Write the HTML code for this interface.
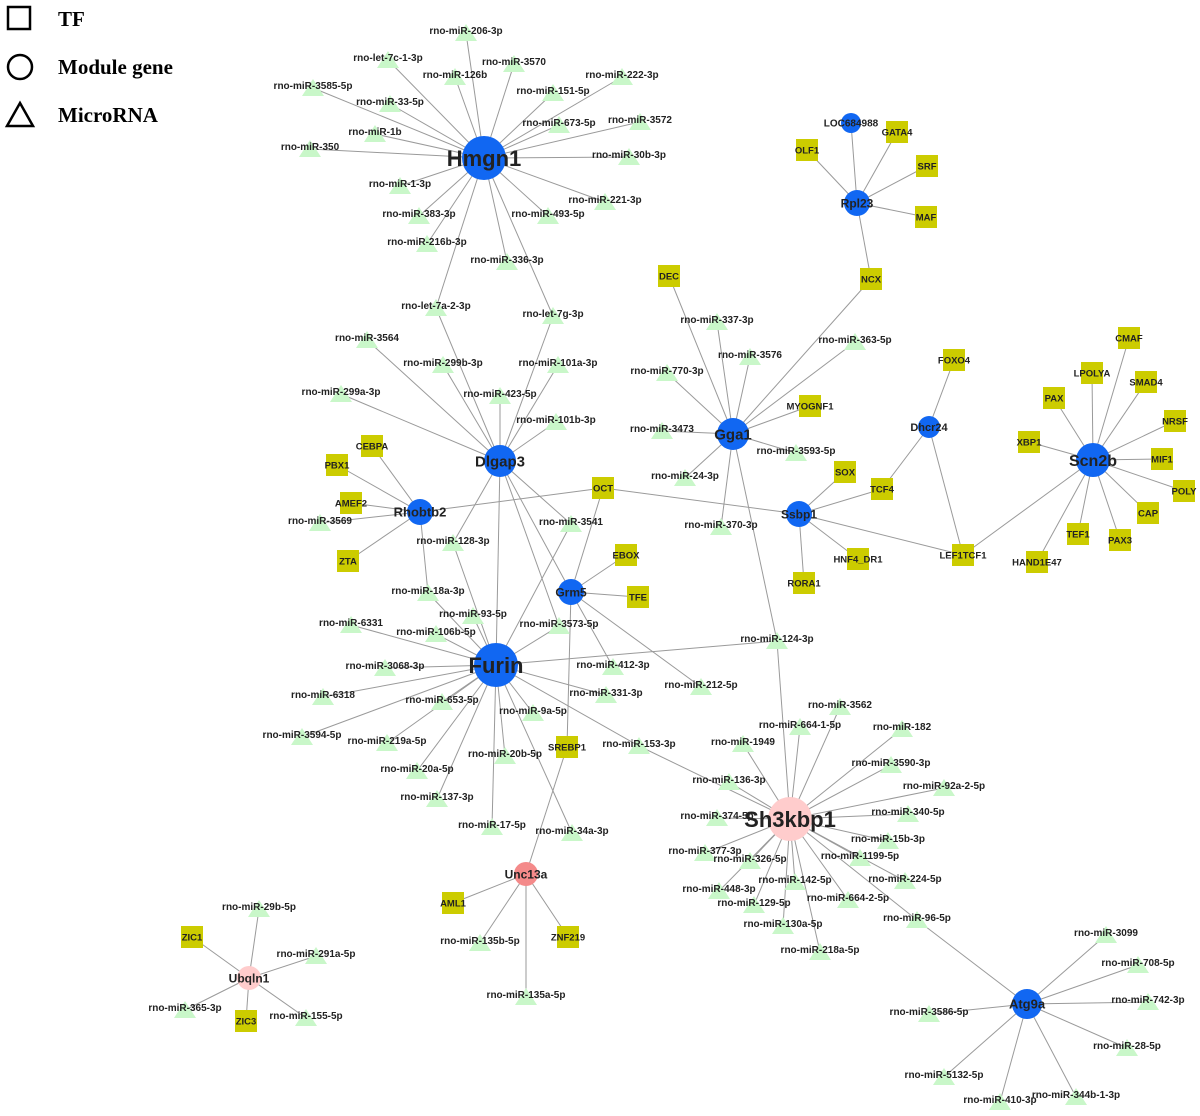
<!DOCTYPE html>
<html><head><meta charset="utf-8"><style>
html,body{margin:0;padding:0;background:#fff;width:1200px;height:1116px;overflow:hidden}
svg text{font-family:"Liberation Sans",Arial,sans-serif;font-weight:bold;fill:#222}
.lg{font-family:"Liberation Serif","Times New Roman",serif;font-weight:bold;font-size:21px;fill:#000}
</style></head><body>
<svg id="s" width="1200" height="1116" xmlns="http://www.w3.org/2000/svg">
<g id="e" stroke="#9a9a9a" stroke-width="1" fill="none"></g>
<g id="n"></g>
<g id="t"></g>
<rect x="8" y="7" width="22" height="22" fill="none" stroke="#000" stroke-width="2.5"/>
<text class="lg" x="58" y="26">TF</text>
<circle cx="20" cy="67" r="12" fill="none" stroke="#000" stroke-width="2.5"/>
<text class="lg" x="58" y="74">Module gene</text>
<polygon points="20,103 33,126 7,126" fill="none" stroke="#000" stroke-width="2.5"/>
<text class="lg" x="58" y="122">MicroRNA</text>
</svg>
<script>
var B="#1167f2",P="#ffcccc",S="#f48a8a";
var G={Hmgn1:[484,158,22,22,B],Dlgap3:[500,461,16,15,B],Furin:[496,665,22,22,B],Gga1:[733,434,16,15,B],Rpl23:[857,203,13,12,B],Dhcr24:[929,427,11,11,B],Scn2b:[1093,460,17,16,B],Ssbp1:[799,514,13,12,B],Rhobtb2:[420,512,13,13,B],Grm5:[571,592,13,12,B],Sh3kbp1:[790,819,22,22,P],Unc13a:[526,874,12,12,S],Ubqln1:[249,978,12,12,P],Atg9a:[1027,1004,15,13,B],LOC684988:[851,123,10,10,B]};
var T={OLF1:[807,150],GATA4:[897,132],SRF:[927,166],MAF:[926,217],NCX:[871,279],DEC:[669,276],MYOGNF1:[810,406],FOXO4:[954,360],SOX:[845,472],TCF4:[882,489],HNF4_DR1:[858,559],RORA1:[804,583],LEF1TCF1:[963,555],OCT:[603,488],EBOX:[626,555],TFE:[638,597],SREBP1:[567,747],CEBPA:[372,446],PBX1:[337,465],AMEF2:[351,503],ZTA:[348,561],AML1:[453,903],ZNF219:[568,937],ZIC1:[192,937],ZIC3:[246,1021],CMAF:[1129,338],LPOLYA:[1092,373],SMAD4:[1146,382],PAX:[1054,398],NRSF:[1175,421],XBP1:[1029,442],MIF1:[1162,459],POLY:[1184,491],CAP:[1148,513],PAX3:[1120,540],TEF1:[1078,534],HAND1E47:[1037,562]};
var M={"rno-miR-206-3p":[466,33],"rno-let-7c-1-3p":[388,60],"rno-miR-126b":[455,77],"rno-miR-3570":[514,64],"rno-miR-3585-5p":[313,88],"rno-miR-33-5p":[390,104],"rno-miR-151-5p":[553,93],"rno-miR-222-3p":[622,77],"rno-miR-1b":[375,134],"rno-miR-673-5p":[559,125],"rno-miR-3572":[640,122],"rno-miR-350":[310,149],"rno-miR-30b-3p":[629,157],"rno-miR-1-3p":[400,186],"rno-miR-221-3p":[605,202],"rno-miR-383-3p":[419,216],"rno-miR-493-5p":[548,216],"rno-miR-216b-3p":[427,244],"rno-miR-336-3p":[507,262],
"rno-let-7a-2-3p":[436,308],"rno-let-7g-3p":[553,316],"rno-miR-3564":[367,340],"rno-miR-299b-3p":[443,365],"rno-miR-101a-3p":[558,365],"rno-miR-299a-3p":[341,394],"rno-miR-423-5p":[500,396],"rno-miR-101b-3p":[556,422],"rno-miR-128-3p":[453,543],"rno-miR-3541":[571,524],"rno-miR-3569":[320,523],"rno-miR-18a-3p":[428,593],
"rno-miR-337-3p":[717,322],"rno-miR-3576":[750,357],"rno-miR-770-3p":[667,373],"rno-miR-363-5p":[855,342],"rno-miR-3473":[662,431],"rno-miR-3593-5p":[796,453],"rno-miR-24-3p":[685,478],"rno-miR-370-3p":[721,527],
"rno-miR-93-5p":[473,616],"rno-miR-6331":[351,625],"rno-miR-3573-5p":[559,626],"rno-miR-106b-5p":[436,634],"rno-miR-3068-3p":[385,668],"rno-miR-412-3p":[613,667],"rno-miR-6318":[323,697],"rno-miR-653-5p":[442,702],"rno-miR-331-3p":[606,695],"rno-miR-9a-5p":[533,713],"rno-miR-3594-5p":[302,737],"rno-miR-219a-5p":[387,743],"rno-miR-153-3p":[639,746],"rno-miR-20b-5p":[505,756],"rno-miR-20a-5p":[417,771],"rno-miR-137-3p":[437,799],"rno-miR-17-5p":[492,827],"rno-miR-34a-3p":[572,833],
"rno-miR-124-3p":[777,641],"rno-miR-212-5p":[701,687],"rno-miR-3562":[840,707],"rno-miR-664-1-5p":[800,727],"rno-miR-182":[902,729],"rno-miR-1949":[743,744],"rno-miR-3590-3p":[891,765],"rno-miR-136-3p":[729,782],"rno-miR-92a-2-5p":[944,788],"rno-miR-340-5p":[908,814],"rno-miR-374-5p":[717,818],"rno-miR-15b-3p":[888,841],"rno-miR-377-3p":[705,853],"rno-miR-326-5p":[750,861],"rno-miR-1199-5p":[860,858],"rno-miR-224-5p":[905,881],"rno-miR-142-5p":[795,882],"rno-miR-448-3p":[719,891],"rno-miR-664-2-5p":[848,900],"rno-miR-129-5p":[754,905],"rno-miR-96-5p":[917,920],"rno-miR-130a-5p":[783,926],"rno-miR-218a-5p":[820,952],
"rno-miR-135b-5p":[480,943],"rno-miR-135a-5p":[526,997],"rno-miR-29b-5p":[259,909],"rno-miR-291a-5p":[316,956],"rno-miR-365-3p":[185,1010],"rno-miR-155-5p":[306,1018],
"rno-miR-3099":[1106,935],"rno-miR-708-5p":[1138,965],"rno-miR-742-3p":[1148,1002],"rno-miR-3586-5p":[929,1014],"rno-miR-28-5p":[1127,1048],"rno-miR-5132-5p":[944,1077],"rno-miR-410-3p":[1000,1102],"rno-miR-344b-1-3p":[1076,1097]};
function m(a){return a.split(" ").map(function(x){return x.indexOf("-")>0?"rno-"+x:x});}
var E={
Hmgn1:m("miR-206-3p let-7c-1-3p miR-126b miR-3570 miR-3585-5p miR-33-5p miR-151-5p miR-222-3p miR-1b miR-673-5p miR-3572 miR-350 miR-30b-3p miR-1-3p miR-221-3p miR-383-3p miR-493-5p miR-216b-3p miR-336-3p let-7a-2-3p let-7g-3p"),
Dlgap3:m("let-7a-2-3p let-7g-3p miR-3564 miR-299b-3p miR-101a-3p miR-299a-3p miR-423-5p miR-101b-3p miR-128-3p miR-3541 Grm5 miR-3573-5p Furin"),
Furin:m("miR-128-3p miR-3541 miR-18a-3p miR-93-5p miR-6331 miR-3573-5p miR-106b-5p miR-3068-3p miR-6318 miR-653-5p miR-331-3p miR-9a-5p miR-3594-5p miR-219a-5p miR-153-3p miR-20b-5p miR-20a-5p miR-137-3p miR-17-5p miR-34a-3p miR-124-3p"),
Grm5:["OCT","EBOX","TFE","rno-miR-412-3p","rno-miR-212-5p","SREBP1"],
Gga1:m("DEC miR-337-3p miR-3576 miR-770-3p miR-363-5p NCX MYOGNF1 miR-3473 miR-3593-5p miR-24-3p miR-370-3p miR-124-3p"),
Rpl23:["LOC684988","OLF1","GATA4","SRF","MAF","NCX"],
Ssbp1:["OCT","SOX","TCF4","HNF4_DR1","RORA1","LEF1TCF1"],
Dhcr24:["FOXO4","TCF4","LEF1TCF1"],
Scn2b:["CMAF","LPOLYA","SMAD4","PAX","NRSF","XBP1","MIF1","POLY","CAP","PAX3","TEF1","HAND1E47","LEF1TCF1"],
Rhobtb2:["CEBPA","PBX1","AMEF2","rno-miR-3569","ZTA","OCT","rno-miR-18a-3p"],
Sh3kbp1:m("miR-124-3p miR-3562 miR-664-1-5p miR-182 miR-1949 miR-153-3p miR-3590-3p miR-136-3p miR-92a-2-5p miR-340-5p miR-374-5p miR-15b-3p miR-377-3p miR-326-5p miR-1199-5p miR-224-5p miR-142-5p miR-448-3p miR-664-2-5p miR-129-5p miR-96-5p miR-130a-5p miR-218a-5p"),
Unc13a:["SREBP1","AML1","ZNF219","rno-miR-135b-5p","rno-miR-135a-5p"],
Ubqln1:["ZIC1","ZIC3","rno-miR-29b-5p","rno-miR-291a-5p","rno-miR-365-3p","rno-miR-155-5p"],
Atg9a:m("miR-96-5p miR-3099 miR-708-5p miR-742-3p miR-3586-5p miR-28-5p miR-5132-5p miR-410-3p miR-344b-1-3p")};
function pos(k){return G[k]||T[k]||M[k];}
var NS="http://www.w3.org/2000/svg";
function el(p,tag,at,tx){var e=document.createElementNS(NS,tag);for(var a in at)e.setAttribute(a,at[a]);if(tx)e.textContent=tx;document.getElementById(p).appendChild(e);}
for(var a in E)E[a].forEach(function(b){var p=pos(a),q=pos(b);if(!q)return;el("e","line",{x1:p[0],y1:p[1],x2:q[0],y2:q[1]});});
for(var k in M){var p=M[k];el("n","polygon",{points:p[0]+","+(p[1]-9)+" "+(p[0]+11)+","+(p[1]+8)+" "+(p[0]-11)+","+(p[1]+8),fill:"#c9f7c9"});el("t","text",{x:p[0],y:p[1]+1,"text-anchor":"middle","font-size":"10"},k);}
for(var k in T){var p=T[k];el("n","rect",{x:p[0]-11,y:p[1]-11,width:22,height:22,fill:"#cccc00"});el("t","text",{x:p[0],y:p[1]+3.5,"text-anchor":"middle","font-size":"9.5"},k);}
for(var k in G){var p=G[k];el("n","circle",{cx:p[0],cy:p[1],r:p[2],fill:p[4]});el("t","text",{x:p[0],y:p[1]+p[3]*0.36,"text-anchor":"middle","font-size":p[3]},k);}
</script>
</body></html>
